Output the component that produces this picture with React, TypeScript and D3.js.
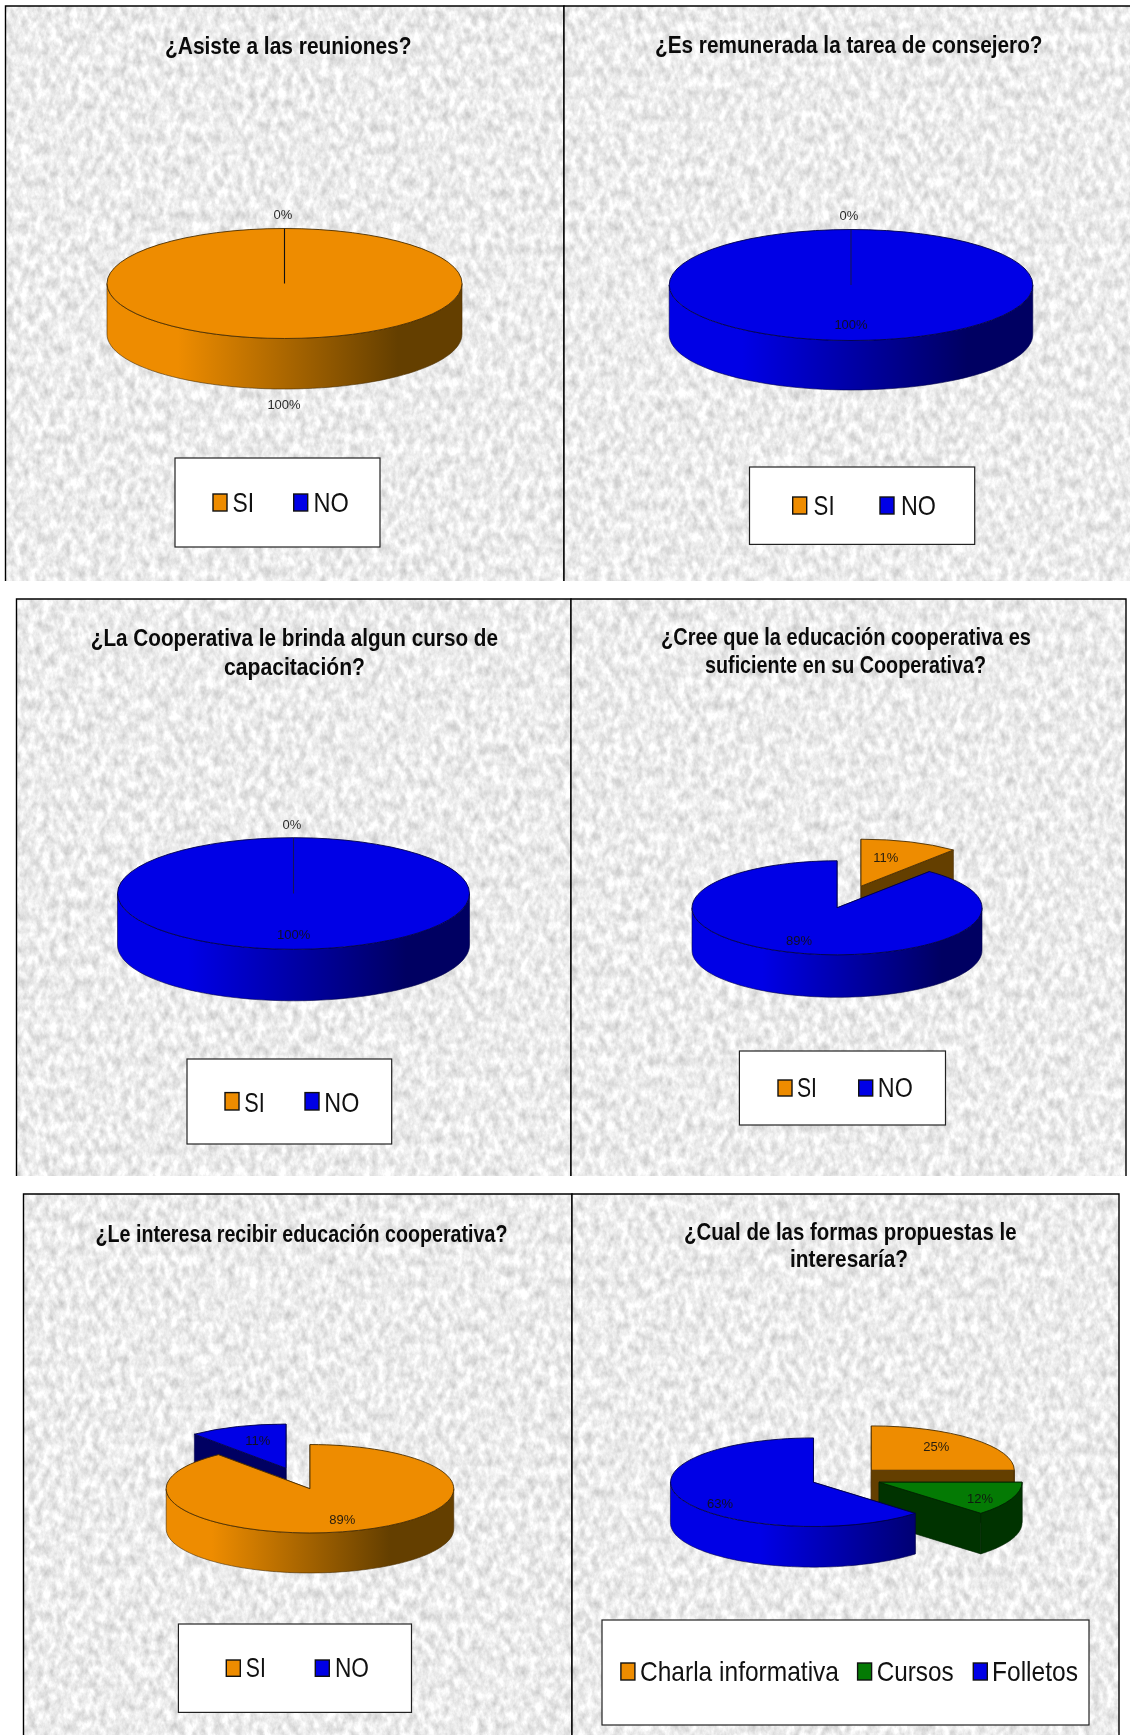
import React from "react";
import * as d3 from "d3";

// ---------- data ----------
const titles: string[][] = [
  ["¿Asiste a las reuniones?"],
  ["¿Es remunerada la tarea de consejero?"],
  ["¿La Cooperativa le brinda algun curso de", "capacitación?"],
  ["¿Cree que la educación cooperativa es", "suficiente en su Cooperativa?"],
  ["¿Le interesa recibir educación cooperativa?"],
  ["¿Cual de las formas propuestas le", "interesaría?"],
];
const siNo = ["SI", "NO"];
const formas = ["Charla informativa", "Cursos", "Folletos"];
const categories = [siNo, siNo, siNo, siNo, siNo, formas];
const valuesAsiste = [100, 0];
const valuesRemunerada = [0, 100];
const valuesCurso = [0, 100];
const valuesSuficiente = [11, 89];
const valuesInteresa = [89, 11];
const valuesFormas = [25, 12.4, 62.6];
const allValues = [valuesAsiste, valuesRemunerada, valuesCurso, valuesSuficiente, valuesInteresa, valuesFormas];

const palette: Record<string, { top: string; dark: string; edge: string }> = {
  SI: { top: "#EE8C00", dark: "#643F00", edge: "#4A2E00" },
  NO: { top: "#0000E6", dark: "#000062", edge: "#00004A" },
  "Charla informativa": { top: "#EE8C00", dark: "#643F00", edge: "#4A2E00" },
  Cursos: { top: "#047A04", dark: "#003300", edge: "#002400" },
  Folletos: { top: "#0000E6", dark: "#000062", edge: "#00004A" },
};

// ---------- layout (no data here) ----------
const frames = [
  { x0: 5.5, x1: 564, y0: 6, y1: 581, right: true },
  { x0: 564, x1: 1130, y0: 6, y1: 581, right: false },
  { x0: 16.5, x1: 571, y0: 599, y1: 1176, right: true },
  { x0: 571, x1: 1126, y0: 599, y1: 1176, right: true },
  { x0: 23.5, x1: 572, y0: 1194, y1: 1735, right: true },
  { x0: 572, x1: 1119, y0: 1194, y1: 1735, right: true },
];
const titleLines = [
  [{ x0: 165, x1: 411.5, y: 53.7 }],
  [{ x0: 655, x1: 1042.5, y: 52.5 }],
  [{ x0: 90.8, x1: 498, y: 645.5 }, { x0: 224, x1: 365, y: 674.5 }],
  [{ x0: 661, x1: 1031, y: 644.9 }, { x0: 705, x1: 986, y: 673 }],
  [{ x0: 95.5, x1: 507.4, y: 1242.2 }],
  [{ x0: 684, x1: 1016.5, y: 1239.5 }, { x0: 790, x1: 908, y: 1267 }],
];
const pies = [
  { cx: 284.5, cy: 283.5, rx: 177.5, ry: 55, depth: 50.5, explode: 0 },
  { cx: 851, cy: 285, rx: 181.8, ry: 55.5, depth: 49.5, explode: 0 },
  { cx: 293.5, cy: 893.5, rx: 176, ry: 55.8, depth: 51.5, explode: 0 },
  { cx: 849, cy: 897, rx: 145, ry: 47, depth: 42.5, explode: 35.4 },
  { cx: 298, cy: 1478.5, rx: 143.8, ry: 44.2, depth: 40, explode: 35.4 },
  { cx: 846.2, cy: 1478, rx: 143, ry: 44.3, depth: 40.6, explode: 35.5 },
];
const labelSpots = [
  [{ x: 284, y: 403.7 }, { x: 283, y: 213.7 }],
  [{ x: 849, y: 215 }, { x: 851, y: 323.5 }],
  [{ x: 292, y: 824.4 }, { x: 293.7, y: 934 }],
  [{ x: 885.7, y: 857 }, { x: 799, y: 940 }],
  [{ x: 342.3, y: 1519 }, { x: 257.7, y: 1440 }],
  [{ x: 936.2, y: 1446 }, { x: 980, y: 1497.5 }, { x: 720, y: 1503 }],
];
const legends = [
  { x0: 175, x1: 380, y0: 458, y1: 547, sy0: 494, sy1: 511, base: 512, sx: [213, 293.7], tx: [232.4, 313.5], tw: [21.6, 35.3], size: 28 },
  { x0: 749.5, x1: 974.7, y0: 467, y1: 544.4, sy0: 497, sy1: 514, base: 515, sx: [792.7, 880], tx: [813.6, 901], tw: [21, 35], size: 28 },
  { x0: 187, x1: 391.7, y0: 1059, y1: 1144, sy0: 1092.6, sy1: 1110, base: 1111.5, sx: [225, 305], tx: [244.3, 324.3], tw: [20.5, 35], size: 28 },
  { x0: 739.4, x1: 945.5, y0: 1051, y1: 1125, sy0: 1080, sy1: 1096, base: 1097, sx: [778, 858.7], tx: [797, 877.8], tw: [20, 35], size: 27 },
  { x0: 178.4, x1: 411.5, y0: 1624, y1: 1712.4, sy0: 1660, sy1: 1676.3, base: 1677, sx: [226.3, 315.3], tx: [245.8, 335], tw: [20, 34], size: 27 },
  { x0: 602, x1: 1089, y0: 1620, y1: 1725, sy0: 1663, sy1: 1680, base: 1681, sx: [620.9, 857.6, 973.3], tx: [640, 876.7, 992], tw: [199, 77, 86], size: 28 },
];

const FONT = "'Liberation Sans', Arial, sans-serif";
const Q = Math.PI / 2;
const wallLine = d3.line<[number, number]>();

function Pie3D({ idx }: { idx: number }) {
  const vals = allValues[idx];
  const cats = categories[idx];
  const p = pies[idx];
  const arcs = d3.pie<number>().sort(null).value((v) => v)(vals);
  const total = d3.sum(vals);
  const dominant = cats[d3.maxIndex(vals)];
  const single = d3.max(vals) === total;

  const slices = arcs
    .map((a, i) => {
      const mid = (a.startAngle + a.endAngle) / 2;
      const active = !single;
      const vx = p.cx + (active ? p.explode * Math.sin(mid) : 0);
      const vy = p.cy - (active ? p.explode * Math.cos(mid) * (p.ry / p.rx) : 0);
      return { a, i, cat: cats[i], vx, vy, zero: vals[i] === 0 };
    })
    .sort((s, t) => (s.zero ? 1 : 0) - (t.zero ? 1 : 0) || s.vy - t.vy);

  const arcGen = d3.arc<any>().innerRadius(0).outerRadius(1);
  const rim = (vx: number, vy: number, t: number, dz = 0): [number, number] => [
    vx + p.rx * Math.sin(t),
    vy - p.ry * Math.cos(t) + dz,
  ];

  return (
    <g>
      <defs>
        {cats.map((c, i) => (
          <linearGradient key={c} id={`wall-${idx}-${i}`} gradientUnits="userSpaceOnUse" x1={p.cx - p.rx} x2={p.cx + p.rx} y1={0} y2={0}>
            <stop offset="0.2" stopColor={palette[c].top} />
            <stop offset="0.82" stopColor={palette[c].dark} />
          </linearGradient>
        ))}
      </defs>
      {slices.map((s) => {
        if (s.zero) return null;
        const pal = palette[s.cat];
        const full = s.a.endAngle - s.a.startAngle >= 2 * Math.PI - 1e-6;
        const from = Math.max(s.a.startAngle, Q);
        const to = Math.min(s.a.endAngle, 3 * Q);
        const hasOuter = to > from;
        const samples = hasOuter ? d3.range(0, 61).map((k) => from + ((to - from) * k) / 60) : [];
        const outer = hasOuter
          ? wallLine([
              ...samples.map((t) => rim(s.vx, s.vy, t)),
              ...samples.slice().reverse().map((t) => rim(s.vx, s.vy, t, p.depth)),
            ]) + "Z"
          : "";
        const radial = full
          ? []
          : [s.a.startAngle, s.a.endAngle].map((t) => {
              const e = rim(s.vx, s.vy, t);
              const e2 = rim(s.vx, s.vy, t, p.depth);
              return wallLine([[s.vx, s.vy], e, e2, [s.vx, s.vy + p.depth]]) + "Z";
            });
        return (
          <g key={s.cat}>
            {radial.map((d, k) => (
              <path key={k} d={d!} fill={pal.dark} stroke={pal.edge} strokeWidth={0.6} />
            ))}
            {hasOuter && <path d={outer} fill={`url(#wall-${idx}-${s.i})`} stroke={pal.edge} strokeWidth={0.6} />}
            <path
              d={arcGen(s.a)!}
              transform={`translate(${s.vx},${s.vy}) scale(${p.rx},${p.ry})`}
              fill={pal.top}
              stroke={pal.edge}
              strokeWidth={0.9}
              vectorEffect="non-scaling-stroke"
            />
          </g>
        );
      })}
      {slices
        .filter((s) => s.zero)
        .map((s) => (
          <path
            key={s.cat}
            d={arcGen(s.a)!}
            transform={`translate(${s.vx},${s.vy}) scale(${p.rx},${p.ry})`}
            fill="none"
            stroke={dominant === "SI" ? "#111" : "#14145A"}
            strokeWidth={1.1}
            vectorEffect="non-scaling-stroke"
          />
        ))}
    </g>
  );
}

function Panel({ idx }: { idx: number }) {
  const f = frames[idx];
  const vals = allValues[idx];
  const leg = legends[idx];
  const total = d3.sum(vals);
  return (
    <g>
      <rect x={f.x0} y={f.y0} width={f.x1 - f.x0} height={f.y1 - f.y0} filter="url(#marble)" />
      <path
        d={`M${f.x0},${f.y1}V${f.y0}H${f.x1}${f.right ? `V${f.y1}` : ""}`}
        fill="none"
        stroke="#000"
        strokeWidth={1.4}
      />
      <g filter="url(#soft)">
        {titles[idx].map((t, k) => {
          const l = titleLines[idx][k];
          return (
            <text
              key={k}
              x={l.x0}
              y={l.y}
              fontFamily={FONT}
              fontWeight={700}
              fontSize={24}
              fill="#0a0a0a"
              textLength={l.x1 - l.x0}
              lengthAdjust="spacingAndGlyphs"
            >
              {t}
            </text>
          );
        })}
        <Pie3D idx={idx} />
        {vals.map((v, i) => (
          <text
            key={i}
            x={labelSpots[idx][i].x}
            y={labelSpots[idx][i].y + 5}
            textAnchor="middle"
            fontFamily={FONT}
            fontSize={13}
            fill="#111"
            opacity={0.9}
          >
            {d3.format(".0%")(v / total)}
          </text>
        ))}
        <rect x={leg.x0} y={leg.y0} width={leg.x1 - leg.x0} height={leg.y1 - leg.y0} fill="#fff" stroke="#222" strokeWidth={1.2} />
        {categories[idx].map((c, i) => (
          <g key={c}>
            <rect x={leg.sx[i]} y={leg.sy0} width={14} height={leg.sy1 - leg.sy0} fill={palette[c].top} stroke="#111" strokeWidth={1.4} />
            <text
              x={leg.tx[i]}
              y={leg.base}
              fontFamily={FONT}
              fontSize={leg.size}
              fill="#111"
              textLength={leg.tw[i]}
              lengthAdjust="spacingAndGlyphs"
            >
              {c}
            </text>
          </g>
        ))}
      </g>
    </g>
  );
}

export default function App() {
  return (
    <svg
      width={1130}
      height={1735}
      viewBox="0 0 1130 1735"
      style={{ position: "absolute", left: 0, top: 0, display: "block", background: "#fff" }}
    >
      <defs>
        <filter id="marble" x="0" y="0" width="1" height="1" colorInterpolationFilters="sRGB">
          <feTurbulence type="fractalNoise" baseFrequency="0.14 0.09" numOctaves={4} seed={7} />
          <feColorMatrix
            type="matrix"
            values="0.34 0 0 0 0.755
                    0.34 0 0 0 0.755
                    0.34 0 0 0 0.755
                    0 0 0 0 1"
          />
        </filter>
        <filter id="soft" x="-5%" y="-5%" width="110%" height="110%" colorInterpolationFilters="sRGB">
          <feGaussianBlur stdDeviation="0.4" />
        </filter>
      </defs>
      {titles.map((_, i) => (
        <Panel key={i} idx={i} />
      ))}
    </svg>
  );
}
